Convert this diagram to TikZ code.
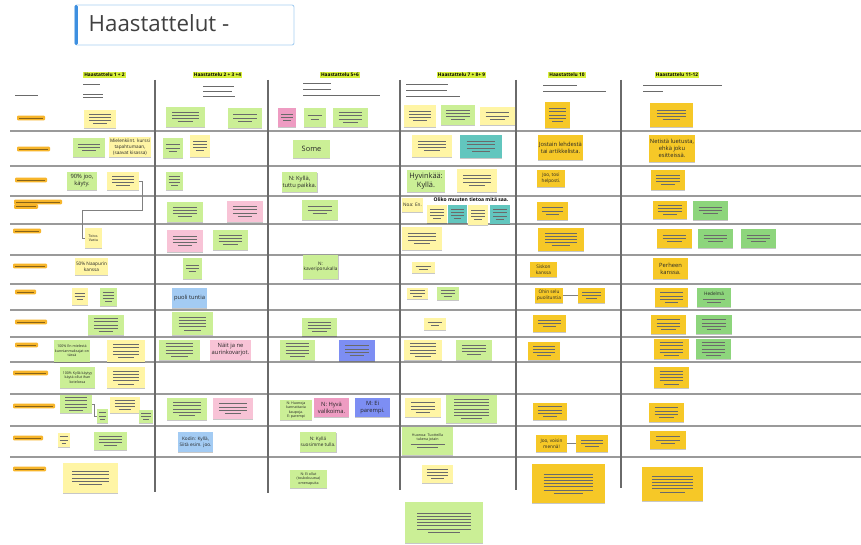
\documentclass[tikz,border=0pt]{standalone}
\usepackage{fontspec}
\setmainfont{Open Sans}
\usetikzlibrary{shadows}

\definecolor{ylw}{HTML}{FFF5A5}
\definecolor{grn}{HTML}{CBEF96}
\definecolor{pnk}{HTML}{F8C3D6}
\definecolor{pnkd}{HTML}{EE9CC2}
\definecolor{blu}{HTML}{A3CBF3}
\definecolor{per}{HTML}{7D8EF3}
\definecolor{tea}{HTML}{62C6BE}
\definecolor{gld}{HTML}{F6C827}
\definecolor{mgr}{HTML}{8DD57C}
\definecolor{hil}{HTML}{D8F03A}
\definecolor{org}{HTML}{F7B52A}
\definecolor{ink}{HTML}{6A6A6A}
\definecolor{tblue}{HTML}{3D8FE0}
\definecolor{tedge}{HTML}{A9D0F2}
\definecolor{rowline}{HTML}{9A9A9A}
\definecolor{colline}{HTML}{6A6A6A}

% stacked grey strokes standing for very small handwriting-size text
\newcommand\scrib[2]{\vbox{\offinterlineskip
  \foreach \i in {2,...,#1}{\hbox to #2pt{\color{ink}\leaders\hrule height .8pt\hfill}\vskip 2.4pt}%
  \hbox to #2pt{\hfil\color{ink}\leaders\hrule height .8pt\hskip .6\dimexpr #2pt\relax\hfil}}}

% sticky note by its corners: style, name, x1, y1, x2, y2, content
\newcommand\stk[7]{%
  \pgfmathsetmacro\stkx{(#3+#5)/2}\pgfmathsetmacro\stky{(#4+#6)/2}%
  \pgfmathsetmacro\stkw{#5-#3}\pgfmathsetmacro\stkh{#6-#4}%
  \node[note,#1,minimum width=\stkw pt,minimum height=\stkh pt] (#2) at (\stkx,\stky) {#7};}
% sticky note filled with n strokes of small text
\newcommand\stks[7]{%
  \pgfmathsetmacro\stkl{0.68*(#5-#3)}%
  \stk{#1}{#2}{#3}{#4}{#5}{#6}{\scrib{#7}{\stkl}}}

\tikzset{
  note/.style={inner sep=1pt, align=center, text=black!85,
    drop shadow={shadow xshift=0.3pt, shadow yshift=-1.3pt, fill=black, opacity=0.22}},
  Y/.style={fill=ylw}, G/.style={fill=grn}, P/.style={fill=pnk}, PD/.style={fill=pnkd},
  B/.style={fill=blu}, V/.style={fill=per}, T/.style={fill=tea}, O/.style={fill=gld},
  M/.style={fill=mgr},
  fb/.style={font=\fontsize{7.4}{8.6}\selectfont},
  fm/.style={font=\fontsize{5.8}{7}\selectfont},
  fs/.style={font=\fontsize{4.7}{5.7}\selectfont},
  ft/.style={font=\fontsize{3.6}{4.4}\selectfont},
  hdr/.style={fill=hil, inner sep=1.2pt, font=\fontsize{4.8}{5.6}\selectfont\bfseries},
  rowrule/.style={draw=rowline, line width=1.2pt},
  colrule/.style={draw=colline, line width=1.2pt},
  link/.style={draw=black!50, line width=0.8pt},
  lbl/.style={fill=org, rounded corners=1pt},
  lblink/.style={draw=org!55!black, line width=0.8pt},
}

\begin{document}
\begin{tikzpicture}[x=1pt,y=-1pt]
\useasboundingbox[fill=white] (0,0) rectangle (861,545);

% ---------- title box ----------
\draw[tedge, line width=0.9pt, rounded corners=2pt, fill=white] (75,5) rectangle (294,45);
\fill[tblue, rounded corners=1.5pt] (74.5,5) rectangle (77.8,45);
\node[anchor=west, text=black!75, font=\fontsize{22.3}{25}\selectfont, inner sep=0] (title) at (88.5,23) {Haastattelut -};

% ---------- grid ----------
\foreach \yy in {131,166,196,224,255,284,310,337,362,394,426,457}
  \draw[rowrule] (10,\yy) -- (861,\yy);
\draw[colrule] (155,80) -- (155,492);
\draw[colrule] (268,80) -- (268,493);
\draw[colrule] (400,80) -- (400,490);
\draw[colrule] (516,80) -- (516,490);
\draw[colrule] (621,80) -- (621,488);

% ---------- column headers ----------
\node[hdr] (h1) at (104.5,75) {Haastattelu 1 + 2};
\node[hdr] (h2) at (217.5,75) {Haastattelu 2 + 3 +4};
\node[hdr] (h3) at (340,75) {Haastattelu 5+6};
\node[hdr] (h4) at (461.5,75) {Haastattelu 7 + 8+ 9};
\node[hdr] (h5) at (567,75) {Haastattelu 10};
\node[hdr] (h6) at (677,75) {Haastattelu 11-12};

% small details under each header
\begin{scope}[draw=ink, line width=0.8pt]
\draw (83,84) -- (100,84); \draw (83,94) -- (103,94); \draw (83,97.5) -- (103,97.5);
\draw (203,86) -- (234,86); \draw (203,91) -- (232,91); \draw (203,96) -- (235,96);
\draw (303,83) -- (331,83); \draw (303,89) -- (331,89); \draw (303,95) -- (380,95);
\draw (406,84) -- (448,84); \draw (406,90) -- (447,90); \draw (406,96) -- (460,96);
\draw (543,85) -- (577,85); \draw (543,91) -- (606,91);
\draw (643,85) -- (722,85); \draw (643,91) -- (663,91);
\end{scope}

% ---------- row labels ----------
\draw[ink, line width=0.8pt] (15,95) -- (38,95);
\foreach \xa/\xb/\yy in {17/45/118, 17/50/149, 15/47/180, 14/62/202, 14/38/206.5, 13/41/231,
  13/47/266, 15/36/292, 15/47/322, 15/38/345, 13/48/373, 13/55/406, 13/43/438, 13/46/469}{
  \fill[lbl] (\xa,\yy-2.4) rectangle (\xb,\yy+2.4);
  \draw[lblink] (\xa+2,\yy) -- (\xb-2,\yy);
}

% ---------- row 1 ----------
\stks{Y}{r1c1}{84}{110}{116}{128}{4}
\stks{G}{r1c2a}{166}{107}{205}{127}{4}
\stks{G}{r1c2b}{228}{108}{262}{128}{3}
\stks{PD}{r1c3a}{278}{108}{296}{127}{3}
\stks{G}{r1c3b}{304}{108}{326}{127}{2}
\stks{G}{r1c3c}{333}{108}{368}{127}{4}
\stks{Y}{r1c4a}{404}{105}{436}{127}{4}
\stks{G}{r1c4b}{441}{105}{475}{125}{4}
\stks{Y}{r1c4c}{480}{107}{515}{125}{3}
\stks{O}{r1c5}{545}{102}{570}{128}{5}
\stks{O}{r1c6}{650}{103}{693}{127}{4}

% ---------- row 2 ----------
\stks{G}{r2c1a}{73}{138}{105}{157}{3}
\stk{Y,fs}{r2c1b}{113}{137}{147}{157}{Mielenkiint. kurssi\\ tapahtumaan,\\ (saavat kisassa)}
\stks{G}{r2c2a}{163}{138}{183}{158}{3}
\stks{Y}{r2c2b}{190}{135}{210}{157}{4}
\stk{G,fb}{r2c3}{293}{140}{330}{158}{Some}
\stks{Y}{r2c4a}{412}{135}{452}{157}{4}
\stks{T}{r2c4b}{460}{135}{502}{158}{4}
\stk{O,fm}{r2c5}{538}{135}{583}{160}{Jostain lehdestä\\ tai artikkelista.}
\stk{O,fm}{r2c6}{649}{135}{695}{162}{Netistä luetusta,\\ ehkä joku\\ esitteissä.}

% ---------- row 3 ----------
\stk{G,fm}{r3c1a}{67}{172}{97}{190}{90\% joo,\\ käyty.}
\stks{Y}{r3c1b}{107}{172}{139}{190}{4}
\stks{G}{r3c2}{166}{172}{183}{190}{4}
\stk{G,fm}{r3c3}{282}{172}{317}{192}{N: Kyllä,\\ tuttu paikka.}
\stk{G,fb}{r3c4a}{407}{170}{445}{192}{Hyvinkää:\\ Kyllä.}
\stks{Y}{r3c4b}{457}{169}{497}{192}{4}
\stk{O,fs}{r3c5}{537}{170}{565}{187}{Joo, tosi\\ helposti.}
\stks{O}{r3c6}{651}{170}{685}{190}{4}

% ---------- row 4 ----------
\stks{G}{r4c2a}{167}{202}{203}{222}{4}
\stks{P}{r4c2b}{227}{201}{263}{222}{4}
\stks{G}{r4c3}{302}{200}{338}{220}{3}
\node[font=\fontsize{5}{6}\selectfont\bfseries, inner sep=0] (q4) at (471,200) {Oliko muuten tietoa mitä saa.};
\stk{Y,fs}{r4c4a}{402}{198}{423}{212}{Noa: En.}
\stks{Y}{r4c4b}{427}{205}{447}{223}{4}
\stks{T}{r4c4c}{448}{205}{467}{223}{4}
\stks{Y}{r4c4d}{468}{205}{488}{225}{4}
\stks{T}{r4c4e}{490}{205}{510}{224}{4}
\stks{O}{r4c5}{537}{202}{568}{220}{3}
\stks{O}{r4c6a}{653}{201}{687}{219}{4}
\stks{M}{r4c6b}{693}{201}{728}{220}{3}

% ---------- row 5 ----------
\stk{Y,ft}{r5c1}{85}{228}{102}{248}{Toivo.\\ Vastu}
\stks{P}{r5c2a}{167}{230}{203}{252}{4}
\stks{G}{r5c2b}{213}{230}{248}{250}{4}
\stks{Y}{r5c4}{402}{227}{442}{250}{4}
\stks{O}{r5c5}{538}{228}{584}{251}{5}
\stks{O}{r5c6a}{657}{229}{692}{248}{3}
\stks{M}{r5c6b}{698}{229}{733}{248}{3}
\stks{M}{r5c6c}{741}{229}{776}{248}{3}

% ---------- row 6 ----------
\stk{Y,fs}{r6c1}{76}{258}{107}{275}{50\% Naapurin\\ kanssa}
\stks{G}{r6c2}{183}{258}{202}{279}{3}
\stk{G,fs}{r6c3}{303}{255}{338}{279}{N:\\ kaveriporukalla}
\stks{Y}{r6c4}{412}{262}{435}{273}{2}
\stk{O,fs}{r6c5}{530}{262}{557}{277}{Siskon\\ kanssa}
\stk{O,fm}{r6c6}{653}{258}{688}{279}{Perheen\\ kanssa.}

% ---------- row 7 ----------
\stks{Y}{r7c1a}{72}{288}{88}{305}{3}
\stks{G}{r7c1b}{100}{288}{117}{306}{4}
\stk{B,fm}{r7c2}{172}{288}{207}{308}{puoli tuntia}
\stks{Y}{r7c4a}{407}{288}{428}{299}{3}
\stks{G}{r7c4b}{437}{287}{459}{300}{3}
\stk{O,fs}{r7c5a}{535}{288}{563}{303}{Ohin selu\\ puolituntia}
\stks{O}{r7c5b}{578}{288}{605}{303}{3}
\stks{O}{r7c6a}{655}{288}{688}{307}{4}
\stk{M,fs}{r7c6b}{697}{288}{731}{307}{Hedelmä\\[1pt] \scrib{2}{22}}
\draw[link] (r7c5a.east) -- (r7c5b.west);

% ---------- row 8 ----------
\stks{G}{r8c1}{88}{315}{124}{335}{5}
\stks{G}{r8c2}{172}{312}{213}{335}{5}
\stks{G}{r8c3}{302}{318}{337}{336}{4}
\stks{Y}{r8c4}{424}{318}{446}{330}{2}
\stks{O}{r8c5}{533}{315}{566}{332}{3}
\stks{O}{r8c6a}{651}{315}{686}{334}{4}
\stks{M}{r8c6b}{696}{315}{732}{334}{4}

% ---------- row 9 ----------
\stk{G,ft}{r9c1a}{54}{340}{90}{362}{100\% En mielestä\\ kunnianmaksajat on\\ tässä}
\stks{Y}{r9c1b}{107}{340}{145}{362}{5}
\stks{G}{r9c2a}{159}{340}{200}{360}{5}
\stk{P,fm}{r9c2b}{210}{340}{251}{360}{Näit ja ne\\ aurinkovarjot.}
\stks{G}{r9c3a}{280}{340}{315}{360}{5}
\stks{V}{r9c3b}{339}{340}{375}{361}{4}
\stks{Y}{r9c4a}{404}{340}{442}{360}{5}
\stks{G}{r9c4b}{456}{340}{492}{360}{4}
\stks{O}{r9c5}{528}{342}{560}{360}{4}
\stks{O}{r9c6a}{654}{339}{689}{359}{5}
\stks{M}{r9c6b}{696}{339}{731}{359}{5}

% ---------- row 10 ----------
\stk{G,ft}{r10c1a}{60}{367}{95}{388}{100\% Kyllä käytyy\\ käytä ollut ihan\\ kotelossa}
\stks{Y}{r10c1b}{107}{367}{145}{388}{5}
\stks{O}{r10c6}{654}{367}{689}{388}{5}

% ---------- row 11 ----------
\stks{G}{r11c1a}{60}{395}{92}{413}{5}
\stks{G}{r11c1b}{97}{409}{108}{423}{3}
\stks{Y}{r11c1c}{110}{397}{140}{413}{4}
\stks{G}{r11c1d}{139}{410}{153}{423}{3}
\draw[link] (r11c1a.east) -| ++(2,0) |- (r11c1b.west);
\stks{G}{r11c2a}{167}{398}{207}{420}{5}
\stks{P}{r11c2b}{213}{398}{253}{419}{4}
\stk{G,ft}{r11c3a}{280}{400}{312}{420}{N: Huonoja\\ kannattavia\\ kaupoja.\\ E: parempi}
\stk{PD,fm}{r11c3b}{314}{398}{349}{417}{N: Hyvä\\ valikoima.}
\stk{V,fm}{r11c3c}{355}{398}{390}{417}{M: Ei\\ parempi.}
\stks{Y}{r11c4a}{405}{398}{441}{417}{4}
\stks{G}{r11c4b}{446}{395}{497}{423}{7}
\stks{O}{r11c5}{533}{403}{567}{420}{4}
\stks{O}{r11c6}{649}{403}{684}{422}{4}

% ---------- row 12 ----------
\stks{Y}{r12c1a}{58}{433}{70}{447}{3}
\stks{G}{r12c1b}{94}{432}{127}{450}{4}
\stk{B,fs}{r12c2}{178}{432}{213}{452}{Kodin: Kyllä,\\ Siitä esim. joo.}
\stk{G,fs}{r12c3}{301}{432}{335}{452}{N: Kyllä\\ suosimme tulla.}
\stk{G,ft}{r12c4}{402}{427}{453}{455}{Huonoa: Tuotteilla\\ tukena jotain\\[1.5pt] \scrib{2}{34}}
\stk{O,fs}{r12c5a}{536}{435}{567}{452}{Joo, voisin\\ mennä!}
\stks{O}{r12c5b}{576}{435}{608}{452}{3}
\stks{O}{r12c6}{650}{431}{686}{449}{3}
\draw[link] (r12c5a.east) -- (r12c5b.west);

% ---------- row 13 ----------
\stks{Y}{r13c1}{63}{463}{118}{493}{5}
\stk{G,ft}{r13c3}{290}{470}{327}{488}{N: Ei ollut\\ (toukokuussa)\\ omenapuita}
\stks{Y}{r13c4a}{422}{465}{453}{483}{4}
\stks{G}{r13c4b}{405}{502}{483}{543}{7}
\stks{O}{r13c5}{532}{464}{605}{503}{7}
\stks{O}{r13c6}{642}{467}{703}{501}{6}

% ---------- connector between the notes of row 3 and row 5 ----------
\coordinate (k1) at (142,210);
\coordinate (k2) at (82,210);
\draw[link] (r3c1b.east) -| (k1) -- (k2) |- (r5c1.west);

\end{tikzpicture}
\end{document}
